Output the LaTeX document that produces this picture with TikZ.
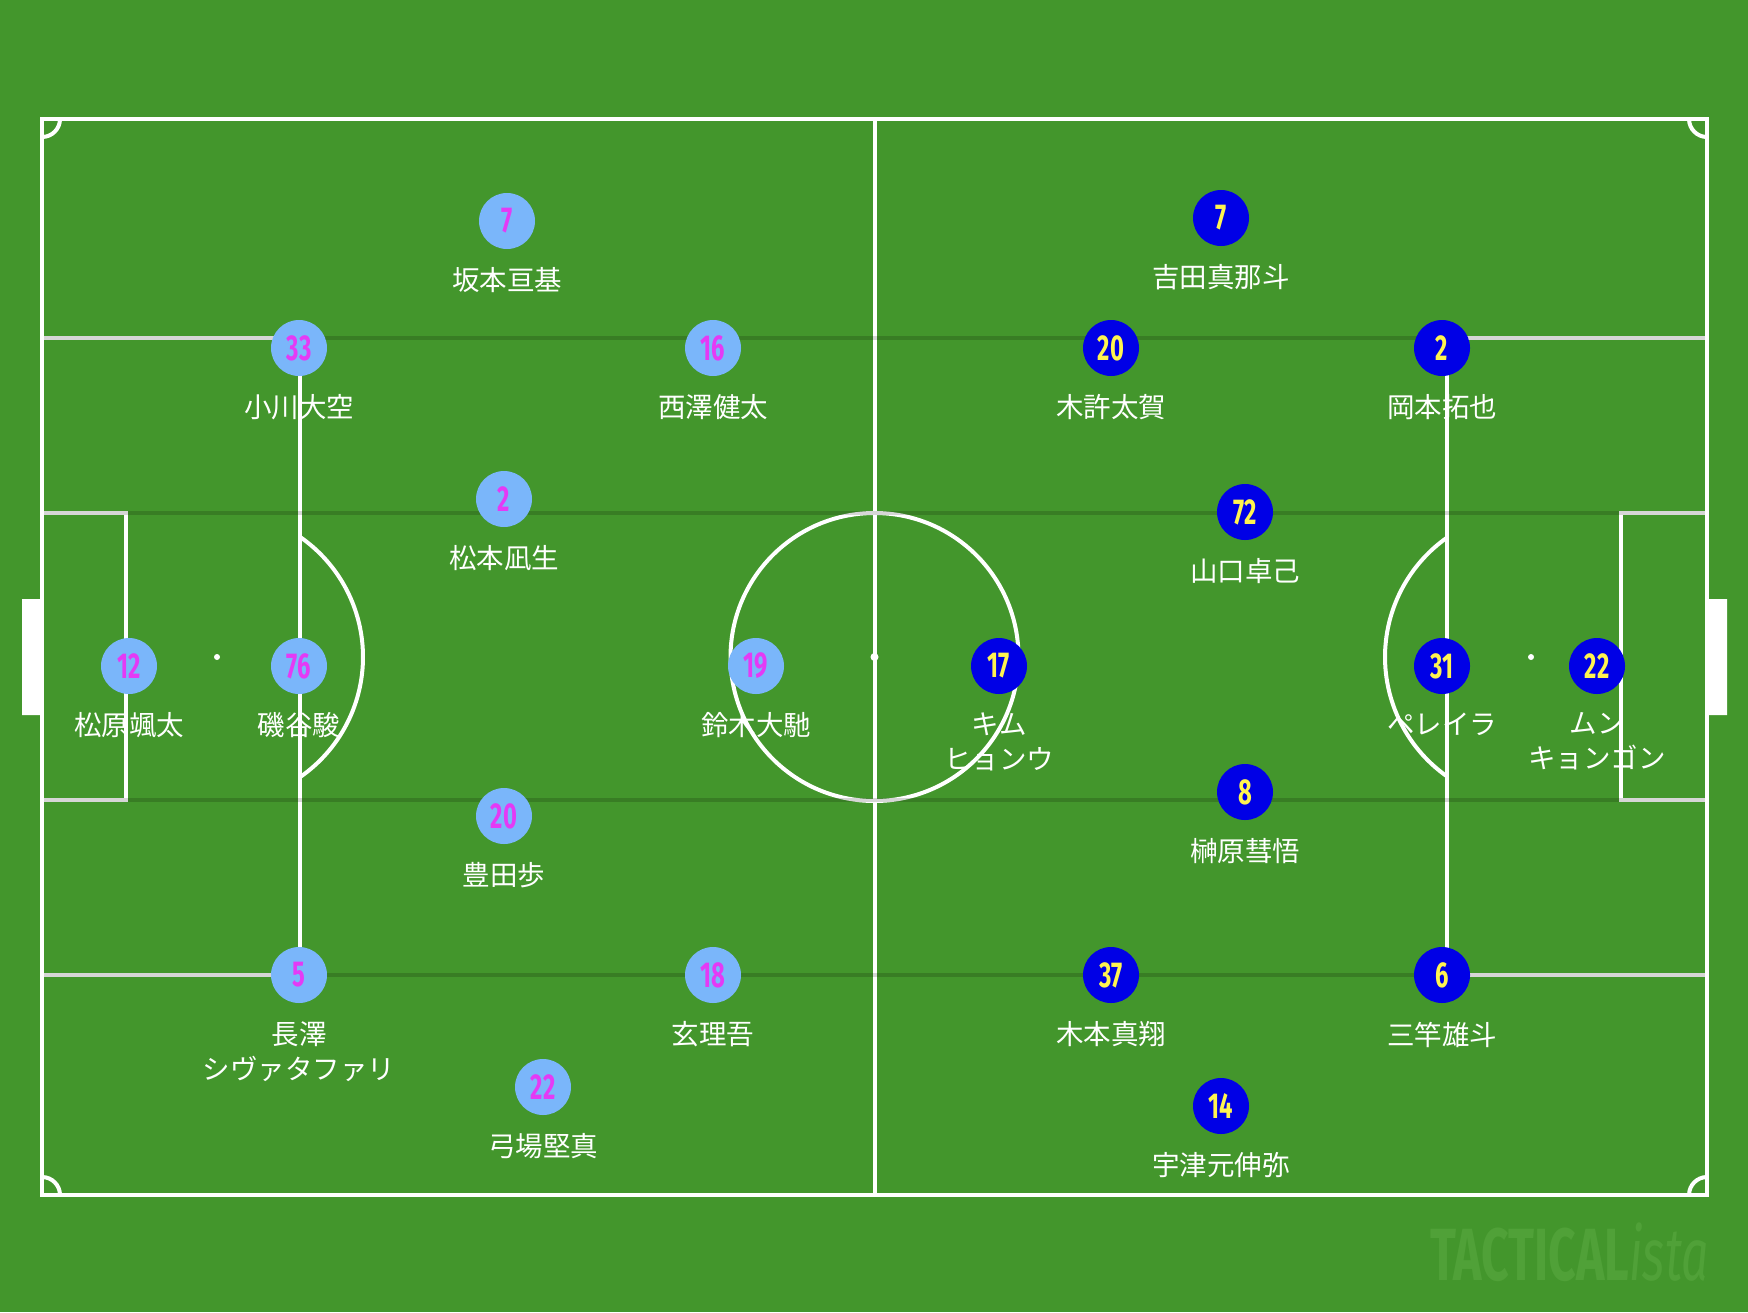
\documentclass[tikz,border=0pt]{standalone}
\usepackage{fontspec}
\usetikzlibrary{positioning}
\newfontfamily\jpfont{Noto Sans CJK JP}
\newfontfamily\numfont[FakeStretch=0.66]{Fira Sans}
\newfontfamily\brandfont[FakeStretch=0.65]{Fira Sans}
\definecolor{pitch}{RGB}{67,150,44}
\definecolor{homefill}{RGB}{122,182,250}
\definecolor{homenum}{RGB}{228,58,245}
\definecolor{awayfill}{RGB}{0,0,230}
\definecolor{awaynum}{RGB}{255,244,80}
\definecolor{wmark}{RGB}{80,161,56}
\begin{document}
\begin{tikzpicture}
[x=0.5pt,y=-0.5pt,node distance=9pt,
  pline/.style={white,line width=2pt},
  lane/.style={black,opacity=0.16,line width=2pt},
  home/.style={circle,fill=homefill,text=homenum,minimum size=28pt,inner
    sep=0pt,font=\numfont\bfseries\fontsize{18pt}{18pt}\selectfont},
  away/.style={home,fill=awayfill,text=awaynum},
  plname/.style={text=white,align=center,inner
    sep=0pt,font=\jpfont\fontsize{13.75pt}{17.5pt}\selectfont}]
\fill[pitch] (0,0) rectangle (1748,1312);
\draw[pline] (42,119) rectangle (1707,1195); \draw[pline] (874.5,119)
-- (874.5,1195); \draw[pline] (874.5,657) circle[radius=144];
\fill[white] (874.5,657) circle[radius=4];
\draw[pline] (42,338) -- (300,338) -- (300,975) -- (42,975);
\draw[pline] (42,513) -- (126,513) -- (126,800) -- (42,800);
\draw[pline] (1707,338) -- (1447,338) -- (1447,975) -- (1707,975);
\draw[pline] (1707,513) -- (1621,513) -- (1621,800) -- (1707,800);
\fill[white] (217,657) circle[radius=3] (1531,657) circle[radius=3];
\draw[pline] (217,657) ++(55.4:146) arc[start angle=55.4,end
angle=-55.4,radius=146]; \draw[pline] (1531,657) ++(125.1:146)
arc[start angle=125.1,end angle=234.9,radius=146];
\fill[white] (22,599) rectangle (42,715) (1707,599) rectangle (1727,715);
\draw[pline] (60,119) arc[start angle=0,end angle=90,radius=18];
\draw[pline] (1689,119) arc[start angle=180,end angle=90,radius=18];
\draw[pline] (42,1177) arc[start angle=-90,end angle=0,radius=18];
\draw[pline] (1689,1195) arc[start angle=180,end angle=270,radius=18];
\foreach \y in {338,513,800,975} \draw[lane] (44,\y) -- (1705,\y);
\node[anchor=base east,text=wmark,inner sep=0pt,font=\fontsize{37pt}{37pt}\selectfont]
(brand) at (1709,1280) {\brandfont\bfseries TACTICAL\mdseries\itshape ista};
\node[home] (h7) at (507,221) {7}; \node[plname,below=of h7] (h7n) {坂本亘基};
\node[home] (h33) at (299,348) {33}; \node[plname,below=of h33] (h33n) {小川大空};
\node[home] (h16) at (713,348) {16}; \node[plname,below=of h16] (h16n) {西澤健太};
\node[home] (h2) at (504,499) {2}; \node[plname,below=of h2] (h2n) {松本凪生};
\node[home] (h12) at (129,666) {12}; \node[plname,below=of h12] (h12n) {松原颯太};
\node[home] (h76) at (299,666) {76}; \node[plname,below=of h76] (h76n) {磯谷駿};
\node[home] (h19) at (756,666) {19}; \node[plname,below=of h19] (h19n) {鈴木大馳};
\node[home] (h20) at (504,816) {20}; \node[plname,below=of h20] (h20n) {豊田歩};
\node[home] (h5) at (299,975) {5}; \node[plname,below=of h5] (h5n) {長澤\\シヴァタファリ};
\node[home] (h18) at (713,975) {18}; \node[plname,below=of h18] (h18n) {玄理吾};
\node[home] (h22) at (543,1087) {22}; \node[plname,below=of h22] (h22n) {弓場堅真};
\node[away] (a7) at (1221,218) {7}; \node[plname,below=of a7] (a7n) {吉田真那斗};
\node[away] (a20) at (1111,348) {20}; \node[plname,below=of a20] (a20n) {木許太賀};
\node[away] (a2) at (1442,348) {2}; \node[plname,below=of a2] (a2n) {岡本拓也};
\node[away] (a72) at (1245,512) {72}; \node[plname,below=of a72] (a72n) {山口卓己};
\node[away] (a17) at (999,666) {17}; \node[plname,below=of a17] (a17n) {キム\\ヒョンウ};
\node[away] (a31) at (1442,666) {31}; \node[plname,below=of a31] (a31n) {ペレイラ};
\node[away] (a22) at (1597,666) {22}; \node[plname,below=of a22] (a22n) {ムン\\キョンゴン};
\node[away] (a8) at (1245,792) {8}; \node[plname,below=of a8] (a8n) {榊原彗悟};
\node[away] (a37) at (1111,975) {37}; \node[plname,below=of a37] (a37n) {木本真翔};
\node[away] (a6) at (1442,975) {6}; \node[plname,below=of a6] (a6n) {三竿雄斗};
\node[away] (a14) at (1221,1106) {14}; \node[plname,below=of a14] (a14n) {宇津元伸弥};
\end{tikzpicture}
\end{document}
